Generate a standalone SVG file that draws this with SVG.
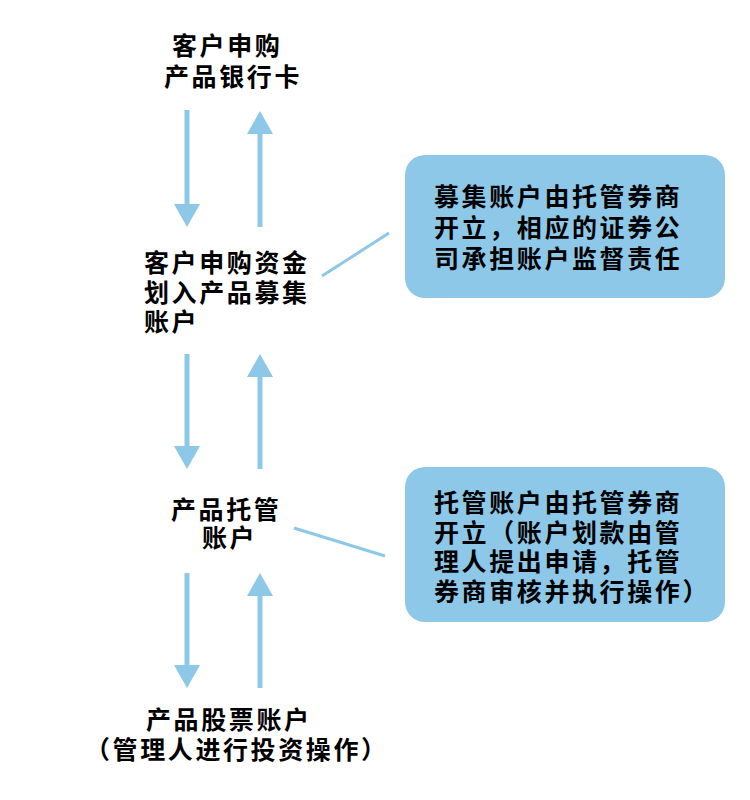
<svg xmlns="http://www.w3.org/2000/svg" width="750" height="800" viewBox="0 0 750 800">
<style>
.t{font-family:"Noto Sans CJK SC","Noto Sans",sans-serif;font-size:25px;font-weight:bold;fill:#000;letter-spacing:2.6px}
.shaft{stroke:#8DC8E8;stroke-width:5;fill:none}
.lead{stroke:#8DC8E8;stroke-width:3;fill:none}
.box{fill:#8DC8E8}
</style>
<defs>
<marker id="ah" viewBox="0 0 23 26" refX="0" refY="13" markerWidth="23" markerHeight="26" markerUnits="userSpaceOnUse" orient="auto">
<path d="M0,0 L23,13 L0,26 Z" fill="#8DC8E8"/>
</marker>
</defs>
<rect width="750" height="800" fill="#fff"/>
<g id="connectors">
<path class="shaft" d="M187,110 L187,204" marker-end="url(#ah)"/>
<path class="shaft" d="M260,227 L260,134" marker-end="url(#ah)"/>
<path class="shaft" d="M187,354 L187,446" marker-end="url(#ah)"/>
<path class="shaft" d="M260,469 L260,377" marker-end="url(#ah)"/>
<path class="shaft" d="M187,573 L187,665" marker-end="url(#ah)"/>
<path class="shaft" d="M260,688 L260,596" marker-end="url(#ah)"/>
<path class="lead" d="M322,276 L389,233"/>
<path class="lead" d="M294,528 L385,556"/>
</g>
<g id="node-bankcard">
<text class="t" x="172" y="55">客户申购</text>
<text class="t" x="164" y="86">产品银行卡</text>
</g>
<g id="node-raising">
<text class="t" x="144" y="272">客户申购资金</text>
<text class="t" x="144" y="302">划入产品募集</text>
<text class="t" x="144" y="331">账户</text>
</g>
<g id="node-custody">
<text class="t" x="171" y="519">产品托管</text>
<text class="t" x="202" y="547">账户</text>
</g>
<g id="node-stock">
<text class="t" x="146" y="729">产品股票账户</text>
<text class="t" x="85" y="759">（管理人进行投资操作）</text>
</g>
<g id="note-raising">
<rect class="box" x="405" y="155" width="320" height="143" rx="20"/>
<text class="t" x="434" y="206">募集账户由托管券商</text>
<text class="t" x="434" y="237">开立，相应的证券公</text>
<text class="t" x="434" y="268">司承担账户监督责任</text>
</g>
<g id="note-custody">
<rect class="box" x="405" y="467" width="320" height="155" rx="20"/>
<text class="t" x="434" y="512">托管账户由托管券商</text>
<text class="t" x="434" y="542">开立（账户划款由管</text>
<text class="t" x="434" y="571">理人提出申请，托管</text>
<text class="t" x="434" y="601">券商审核并执行操作）</text>
</g>
</svg>
